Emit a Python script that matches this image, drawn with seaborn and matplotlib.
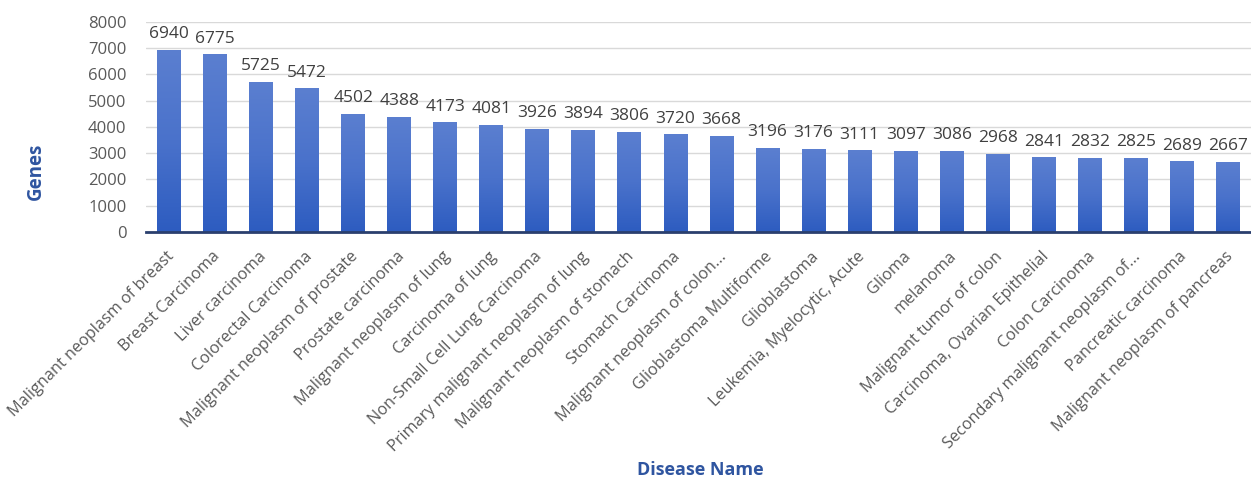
import numpy as np
import pandas as pd
import matplotlib
matplotlib.use("Agg")
import matplotlib.pyplot as plt
import matplotlib.transforms as mtransforms
from matplotlib.colors import LinearSegmentedColormap
import seaborn as sns

diseases = [
    "Malignant neoplasm of breast", "Breast Carcinoma", "Liver carcinoma",
    "Colorectal Carcinoma", "Malignant neoplasm of prostate", "Prostate carcinoma",
    "Malignant neoplasm of lung", "Carcinoma of lung", "Non-Small Cell Lung Carcinoma",
    "Primary malignant neoplasm of lung", "Malignant neoplasm of stomach",
    "Stomach Carcinoma", "Malignant neoplasm of colon...", "Glioblastoma Multiforme",
    "Glioblastoma", "Leukemia, Myelocytic, Acute", "Glioma", "melanoma",
    "Malignant tumor of colon", "Carcinoma, Ovarian Epithelial", "Colon Carcinoma",
    "Secondary malignant neoplasm of...", "Pancreatic carcinoma",
    "Malignant neoplasm of pancreas",
]
genes = [6940, 6775, 5725, 5472, 4502, 4388, 4173, 4081, 3926, 3894, 3806, 3720,
         3668, 3196, 3176, 3111, 3097, 3086, 2968, 2841, 2832, 2825, 2689, 2667]
y_ticks = [0, 1000, 2000, 3000, 4000, 5000, 6000, 7000, 8000]

df = pd.DataFrame({"Disease Name": diseases, "Genes": genes})

sns.set_theme(style="white")
plt.rcParams["font.family"] = ["Open Sans", "DejaVu Sans"]

fig = plt.figure(figsize=(12.51, 4.79), dpi=100)
ax = fig.add_axes([0.1167, 0.516, 0.8833, 0.438])

sns.barplot(data=df, x="Disease Name", y="Genes", color="#4472c4",
            width=0.52, ax=ax, zorder=2)

ax.set_ylim(0, 8000)
ax.set_xlim(-0.5, len(diseases) - 0.5)
ax.set_yticks(y_ticks)
ax.yaxis.grid(True, color="#d9d9d9", linewidth=1.0, zorder=0)
ax.set_axisbelow(True)
for side in ["top", "right", "left"]:
    ax.spines[side].set_visible(False)
ax.spines["bottom"].set_color("#2a3f6e")
ax.spines["bottom"].set_linewidth(2.0)
ax.spines["bottom"].set_zorder(5)

# vertical gradient fill on each bar
cmap = LinearSegmentedColormap.from_list("bar", ["#2d5cc0", "#4a72cb", "#5b7fd0"])
grad = np.linspace(0, 1, 256).reshape(-1, 1)
for patch in list(ax.patches):
    x0, y0 = patch.get_x(), patch.get_y()
    w, h = patch.get_width(), patch.get_height()
    im = ax.imshow(grad, cmap=cmap, aspect="auto", origin="lower",
                   extent=[x0, x0 + w, y0, y0 + h], zorder=3)
    im.set_clip_path(patch)
    patch.set_edgecolor("none")
ax.set_xlim(-0.5, len(diseases) - 0.5)
ax.set_ylim(0, 8000)

# value labels above bars
for i, v in enumerate(genes):
    ax.text(i, v + 290, f"{v}", ha="center", va="bottom",
            fontsize=12.5, color="#404040")

ax.tick_params(axis="y", labelsize=12, labelcolor="#595959", length=0, pad=14)
ax.tick_params(axis="x", labelsize=11.7, labelcolor="#595959", length=0, pad=12)
ax.set_xticks(range(len(diseases)))
ax.set_xticklabels(diseases, rotation=45, ha="right", rotation_mode="anchor")
shift = mtransforms.ScaledTranslation(-3 / 100, 0, fig.dpi_scale_trans)
for lbl in ax.get_xticklabels():
    lbl.set_transform(lbl.get_transform() + shift)

ax.set_ylabel("Genes", fontsize=13.5, fontweight="bold", color="#2f55a0")
ax.yaxis.set_label_coords(-0.091, 0.29)
ax.set_xlabel("Disease Name", fontsize=13, fontweight="bold", color="#2f55a0")
ax.xaxis.set_label_coords(0.5015, -1.09)

fig.savefig("out.png", dpi=100)
